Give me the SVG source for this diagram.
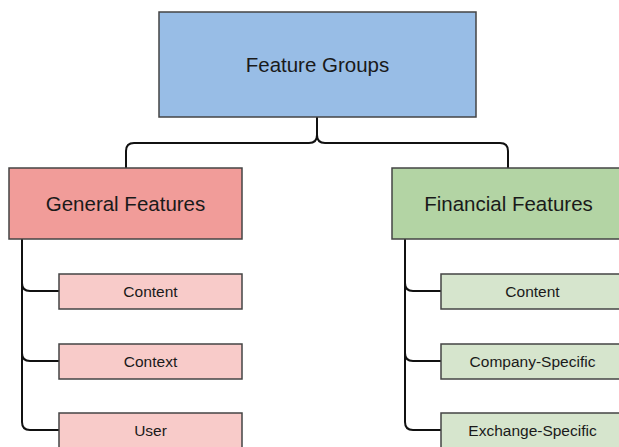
<svg xmlns="http://www.w3.org/2000/svg" width="619" height="447" viewBox="0 0 619 447">
<style>
.box{stroke:#444;stroke-width:1.5}
.t{font-family:"Liberation Sans",Arial,sans-serif;fill:#1a1a1a;text-anchor:middle}
.big{font-size:20.5px}
.small{font-size:15.5px}
.c{fill:none;stroke:#111;stroke-width:2}
</style>
<rect width="619" height="447" fill="#ffffff"/>
<g id="connectors">
<path class="c" d="M317,117 V135 Q317,143 309,143 H134 Q126,143 126,151 V168"/>
<path class="c" d="M317,135 Q317,143 325,143 H500 Q508,143 508,151 V168"/>
<path class="c" d="M22,239 V283 Q22,291 30,291 H59"/>
<path class="c" d="M22,239 V353 Q22,361 30,361 H59"/>
<path class="c" d="M22,239 V422 Q22,430 30,430 H59"/>
<path class="c" d="M405,239 V283 Q405,291 413,291 H441"/>
<path class="c" d="M405,239 V353 Q405,361 413,361 H441"/>
<path class="c" d="M405,239 V422 Q405,430 413,430 H441"/>
</g>
<g id="feature-groups">
<rect class="box" x="159" y="12" width="317" height="105" fill="#98bde6"/>
<text class="t big" x="317.5" y="71.5">Feature Groups</text>
</g>
<g id="general-features">
<rect class="box" x="9" y="168" width="233" height="71" fill="#f19c99"/>
<text class="t big" x="125.5" y="210.5">General Features</text>
</g>
<g id="financial-features">
<rect class="box" x="392" y="168" width="233" height="71" fill="#b3d4a4"/>
<text class="t big" x="508.5" y="210.5">Financial Features</text>
</g>
<g id="general-content">
<rect class="box" x="59" y="274" width="183" height="35" fill="#f8cbc9"/>
<text class="t small" x="150.5" y="296.5">Content</text>
</g>
<g id="general-context">
<rect class="box" x="59" y="344" width="183" height="35" fill="#f8cbc9"/>
<text class="t small" x="150.5" y="366.5">Context</text>
</g>
<g id="general-user">
<rect class="box" x="59" y="413" width="183" height="35" fill="#f8cbc9"/>
<text class="t small" x="150.5" y="435.5">User</text>
</g>
<g id="financial-content">
<rect class="box" x="441" y="274" width="183" height="35" fill="#d6e5cd"/>
<text class="t small" x="532.5" y="296.5">Content</text>
</g>
<g id="financial-company">
<rect class="box" x="441" y="344" width="183" height="35" fill="#d6e5cd"/>
<text class="t small" x="532.5" y="366.5">Company-Specific</text>
</g>
<g id="financial-exchange">
<rect class="box" x="441" y="413" width="183" height="35" fill="#d6e5cd"/>
<text class="t small" x="532.5" y="435.5">Exchange-Specific</text>
</g>
</svg>
